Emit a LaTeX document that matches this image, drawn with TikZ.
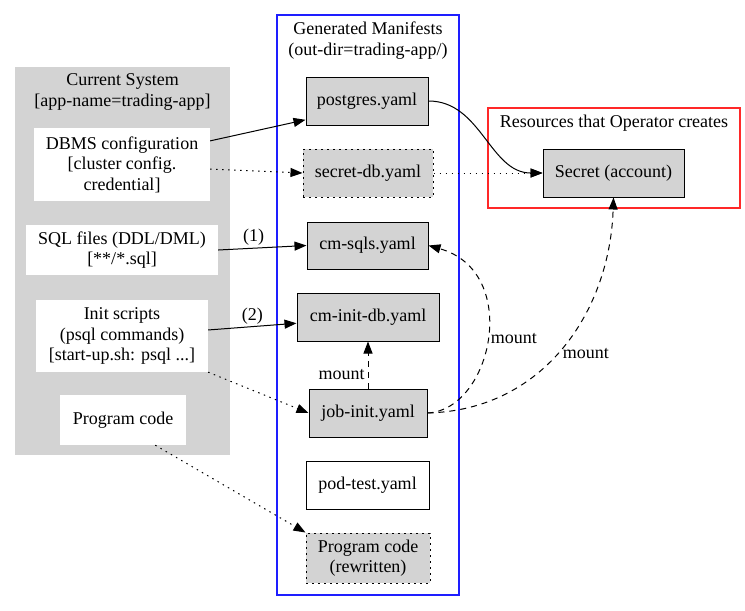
\documentclass[tikz,border=0pt]{standalone}
\usepackage{fontspec}
\setmainfont{Liberation Serif}
\usepackage{tikz}
\usetikzlibrary{arrows.meta}
\definecolor{gvgray}{RGB}{211,211,211}
\definecolor{gvblue}{RGB}{30,30,255}
\definecolor{gvred}{RGB}{255,40,40}
\tikzset{>={Triangle[length=12pt,width=9pt]}}
\tikzset{
  file/.style={draw, line width=1pt, fill=gvgray, inner sep=0pt, align=center},
  dotfile/.style={file, dash pattern=on 2pt off 4pt},
  outfile/.style={draw, line width=1pt, fill=white, inner sep=0pt, align=center},
  srcbox/.style={fill=white, inner sep=0pt, align=center},
  grp/.style={inner sep=0pt, line width=1.3pt},
  dotline/.style={line width=1pt, dash pattern=on 1.5pt off 4.5pt},
  dashline/.style={line width=1pt, dash pattern=on 6pt off 5pt}
}

\begin{document}
\begin{tikzpicture}[x=1pt, y=-1pt, font=\fontsize{18}{20.5}\selectfont]
\useasboundingbox (0,0) rectangle (745,611);
\node[grp, fill=gvgray, minimum width=215, minimum height=388] (cur) at (122.5,261) {};
\node[align=center, inner sep=0pt] (curtitle) at (122.5,92) {Current System\\{}[app-name=trading-app]};
\node[grp, draw=gvblue, minimum width=182, minimum height=580] (gen) at (368,305) {};
\node[align=center, inner sep=0pt] (gentitle) at (368,40.5) {Generated Manifests\\(out-dir=trading-app/)};
\node[grp, draw=gvred, minimum width=252, minimum height=100] (ops) at (614,158) {};
\node[inner sep=0pt] (opstitle) at (614,123) {Resources that Operator creates};

\node[srcbox, minimum width=176, minimum height=73] (dbms) at (122,164.5) {DBMS configuration\\{}[cluster config.\\credential]};
\node[srcbox, minimum width=192, minimum height=50] (sql) at (122,250) {SQL files (DDL/DML)\\{}[**/*.sql]};
\node[srcbox, minimum width=172, minimum height=72] (init) at (122,336) {Init scripts\\(psql commands)\\{}[start-up.sh: psql ...]};
\node[srcbox, minimum width=126, minimum height=50] (prog) at (123,420) {Program code};

\node[file, minimum width=122, minimum height=48] (postgres) at (367,101) {postgres.yaml};
\node[dotfile, minimum width=130, minimum height=48] (secretdb) at (368,173) {secret-db.yaml};
\node[file, minimum width=121, minimum height=47] (cmsqls) at (367.5,245.5) {cm-sqls.yaml};
\node[file, minimum width=142, minimum height=48] (cminit) at (368,317) {cm-init-db.yaml};
\node[file, minimum width=118, minimum height=48] (jobinit) at (368,413) {job-init.yaml};
\node[outfile, minimum width=123, minimum height=48] (podtest) at (367.5,485) {pod-test.yaml};
\node[dotfile, minimum width=124, minimum height=50] (rewritten) at (368,558) {Program code\\(rewritten)};
\node[file, minimum width=141, minimum height=48] (secret) at (613.5,173) {Secret (account)};

\draw[->, line width=1pt] (dbms.15) -- (postgres.-163);
\draw[->, dotline] (dbms.-3) -- (secretdb.west);
\draw[->, dotline] (secretdb.east) -- (secret.west);
\draw[->, line width=1pt] (postgres.east) to[out=0, in=180] (secret.west);
\draw[->, line width=1pt] (sql.east) -- node[pos=0.4, above, inner sep=2pt] {(1)} (cmsqls.west);
\draw[->, line width=1pt] (init.4) -- node[pos=0.5, above, inner sep=2pt] {(2)} (cminit.185);
\draw[->, dotline] (init.south east) -- (jobinit.west);
\draw[->, dashline] (jobinit.north) -- node[pos=0.3, left, inner sep=3pt] {mount} (cminit.south);
\draw[->, dashline] (jobinit.east) .. controls (492,410) and (522,272) .. node[pos=0.5, right, inner sep=3pt] {mount} (cmsqls.east);
\draw[->, dashline] (jobinit.east) .. controls (545,410) and (610,310) .. node[pos=0.47, right, inner sep=5pt] {mount} (secret.south);
\draw[->, dotline] (prog.-38) -- (rewritten.north west);
\end{tikzpicture}
\end{document}
